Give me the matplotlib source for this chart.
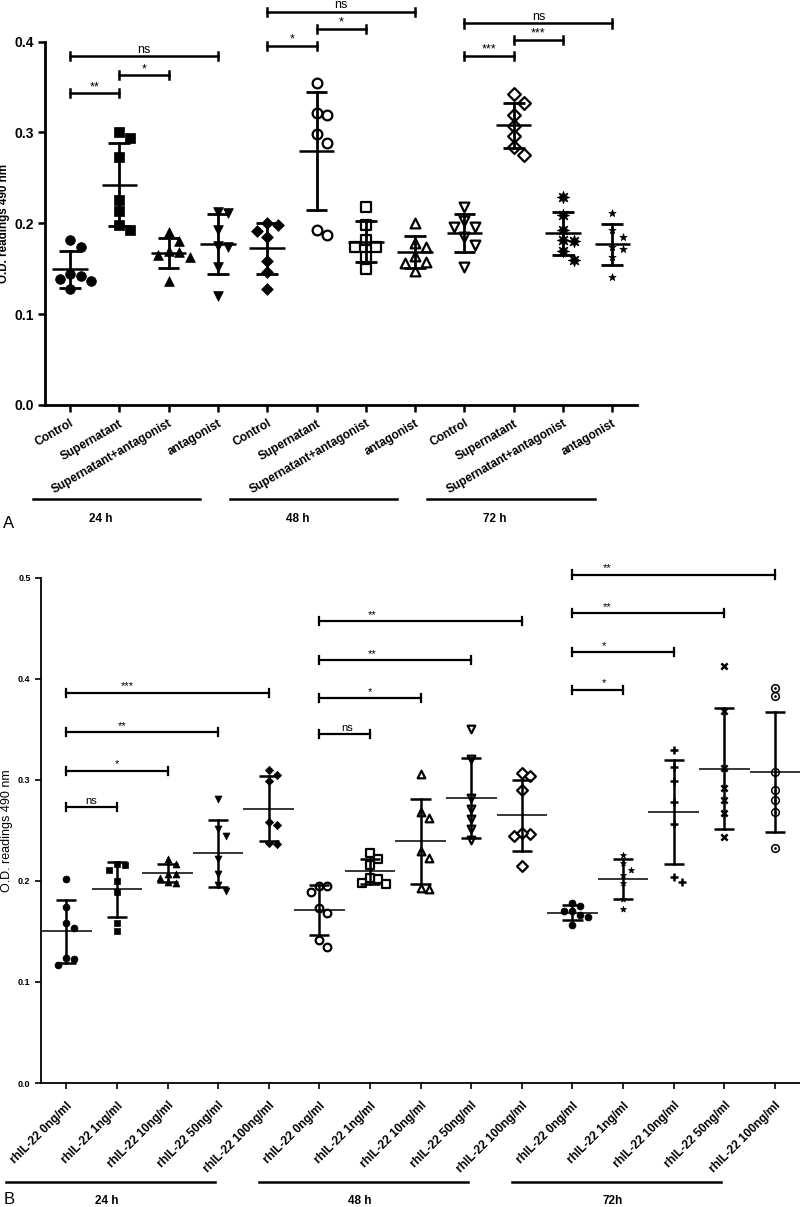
import numpy as np
import matplotlib
matplotlib.use("Agg")
import matplotlib.pyplot as plt
import matplotlib.transforms as mtransforms

plt.rcParams['font.family'] = ['Liberation Sans', 'DejaVu Sans']

# ---- panel A data (O.D. 490 nm) ----
a_labels = ["Control", "Supernatant", "Supernatant+antagonist", "antagonist"] * 3
a_24h = [
    [0.182, 0.174, 0.144, 0.139, 0.142, 0.136, 0.128],
    [0.300, 0.294, 0.273, 0.226, 0.214, 0.193, 0.198],
    [0.190, 0.181, 0.170, 0.168, 0.165, 0.163, 0.137],
    [0.212, 0.211, 0.193, 0.175, 0.174, 0.152, 0.120],
]
a_48h = [
    [0.200, 0.198, 0.192, 0.185, 0.158, 0.146, 0.128],
    [0.354, 0.321, 0.319, 0.298, 0.288, 0.193, 0.187],
    [0.218, 0.198, 0.182, 0.174, 0.174, 0.163, 0.150],
    [0.200, 0.178, 0.174, 0.164, 0.157, 0.156, 0.147],
]
a_72h = [
    [0.218, 0.202, 0.196, 0.196, 0.185, 0.176, 0.152],
    [0.342, 0.332, 0.319, 0.307, 0.296, 0.284, 0.275],
    [0.229, 0.209, 0.193, 0.182, 0.181, 0.170, 0.160],
    [0.211, 0.193, 0.185, 0.174, 0.172, 0.163, 0.141],
]
a_times = ["24 h", "48 h", "72 h"]
# (left group, right group, height, label)
a_brackets = [
    (0, 1, 0.343, "**"), (1, 2, 0.363, "*"), (0, 3, 0.384, "ns"),
    (4, 5, 0.395, "*"), (5, 6, 0.414, "*"), (4, 7, 0.433, "ns"),
    (8, 9, 0.384, "***"), (9, 10, 0.402, "***"), (8, 11, 0.420, "ns"),
]

# ---- panel B data ----
b_doses = ["0ng/ml", "1ng/ml", "10ng/ml", "50ng/ml", "100ng/ml"]
b_labels = ["rhIL-22 " + d for d in b_doses] * 3
b_24h = [
    [0.202, 0.174, 0.158, 0.153, 0.124, 0.123, 0.117],
    [0.216, 0.217, 0.211, 0.200, 0.189, 0.158, 0.150],
    [0.222, 0.217, 0.207, 0.207, 0.203, 0.199, 0.198],
    [0.281, 0.251, 0.244, 0.222, 0.207, 0.196, 0.190],
    [0.310, 0.305, 0.299, 0.258, 0.255, 0.237, 0.236],
]
b_48h = [
    [0.195, 0.195, 0.189, 0.173, 0.168, 0.141, 0.135],
    [0.228, 0.222, 0.216, 0.202, 0.197, 0.198, 0.203],
    [0.306, 0.268, 0.262, 0.230, 0.223, 0.192, 0.193],
    [0.350, 0.321, 0.282, 0.271, 0.261, 0.251, 0.240],
    [0.307, 0.304, 0.290, 0.246, 0.244, 0.247, 0.215],
]
b_72h = [
    [0.175, 0.178, 0.170, 0.166, 0.170, 0.164, 0.156],
    [0.226, 0.218, 0.211, 0.206, 0.198, 0.182, 0.172],
    [0.329, 0.313, 0.299, 0.278, 0.256, 0.199, 0.204],
    [0.413, 0.368, 0.312, 0.292, 0.280, 0.267, 0.243],
    [0.391, 0.383, 0.308, 0.290, 0.280, 0.268, 0.232],
]
b_times = ["24 h", "48 h", "72h"]
# (left group, right group, height, label, label offset from left end)
b_brackets = [
    (0, 1, 0.273, "ns", 0.5), (0, 2, 0.309, "*", 1.0), (0, 3, 0.347, "**", 1.1), (0, 4, 0.386, "***", 1.2),
    (5, 6, 0.345, "ns", 0.55), (5, 7, 0.381, "*", 1.0), (5, 8, 0.418, "**", 1.05), (5, 9, 0.457, "**", 1.05),
    (10, 11, 0.389, "*", 0.62), (10, 12, 0.426, "*", 0.62), (10, 13, 0.465, "**", 0.68), (10, 14, 0.503, "**", 0.68),
]

# marker styles: (marker, filled, size in pt)
a_markers = [("o", True, 7), ("s", True, 6.5), ("^", True, 7), ("v", True, 7),
             ("D", True, 6), ("o", False, 7), ("s", False, 7), ("^", False, 7),
             ("v", False, 7), ("D", False, 6.5), ((8, 1, 0), True, 9), ("*", True, 5.5)]
b_markers = [("o", True, 5), ("s", True, 5), ("^", True, 5), ("v", True, 5),
             ("D", True, 4.2), ("o", False, 5.5), ("s", False, 5.5), ("^", False, 5.5),
             ("v", False, 5.5), ("D", False, 5.5), ("o", True, 5), ("*", True, 4.5),
             ("+", True, 6), ("x", True, 4.5), ("odot", False, 5.5)]


def swarm_offsets(vals, px_per_val, px_per_unit, diam):
    vals = np.asarray(vals)
    offs = np.zeros(len(vals))
    placed = []
    for i in np.argsort(-vals, kind="stable"):
        y = vals[i] * px_per_val
        for k in [0, 1, -1, 2, -2, 3, -3]:
            x = k * diam
            if all((x - px) ** 2 + (y - py) ** 2 >= diam ** 2 * 0.8 for px, py in placed):
                break
        placed.append((x, y))
        offs[i] = x / px_per_unit
    return offs


def draw_groups(ax, groups, markers, px_val, px_unit, diam, lw_bar, lw_mean, cap_w, mean_w):
    for i, vals in enumerate(groups):
        vals = np.asarray(vals)
        xs = i + swarm_offsets(vals, px_val, px_unit, diam)
        m, filled, ms = markers[i]
        if m == "odot":
            ax.scatter(xs, vals, marker="o", s=ms ** 2, facecolors="white", edgecolors="black",
                       linewidths=1.1, zorder=2)
            ax.scatter(xs, vals, marker="o", s=(ms * 0.35) ** 2, c="black", linewidths=0, zorder=2)
        elif m in ("+", "x"):
            ax.scatter(xs, vals, marker=m, s=ms ** 2, c="black", linewidths=1.8, zorder=2)
        elif filled:
            ax.scatter(xs, vals, marker=m, s=ms ** 2, c="black", linewidths=0.5, zorder=2)
        else:
            ax.scatter(xs, vals, marker=m, s=ms ** 2, facecolors="white", edgecolors="black",
                       linewidths=1.6, zorder=2)
        mean = vals.mean()
        sd = vals.std(ddof=1)
        ax.plot([i, i], [mean - sd, mean + sd], color="black", lw=lw_bar, zorder=3)
        ax.hlines([mean - sd, mean + sd], i - cap_w, i + cap_w, color="black", lw=lw_bar, zorder=3)
        ax.hlines(mean, i - mean_w, i + mean_w, color="black", lw=lw_mean, zorder=3)


def draw_bracket(ax, x1, x2, y, label, tx, cap, lw, fs):
    ax.plot([x1, x2], [y, y], color="black", lw=lw, clip_on=False)
    ax.plot([x1, x1], [y - cap, y + cap], color="black", lw=lw, clip_on=False)
    ax.plot([x2, x2], [y - cap, y + cap], color="black", lw=lw, clip_on=False)
    ax.text(tx, y + cap * 0.8, label, ha="center", va="baseline", fontsize=fs, clip_on=False)


fig = plt.figure(figsize=(8, 12.07), dpi=100)

# ---------------- panel A ----------------
axA = fig.add_axes([0.0567, 0.6645, 0.7395, 0.3010])
groupsA = a_24h + a_48h + a_72h
draw_groups(axA, groupsA, a_markers, 908, 49.3, 10.5, 2.0, 1.8, 0.22, 0.36)
axA.set_xlim(-0.5, 11.5)
axA.set_ylim(0, 0.4)
axA.set_yticks([0, 0.1, 0.2, 0.3, 0.4])
axA.set_yticklabels(["0.0", "0.1", "0.2", "0.3", "0.4"], fontsize=10, fontweight="bold")
axA.set_xticks(range(len(a_labels)))
axA.set_xticklabels(a_labels, rotation=30, ha="right", rotation_mode="anchor",
                    fontsize=8.6, fontweight="bold")
for s in ["top", "right"]:
    axA.spines[s].set_visible(False)
for s in ["left", "bottom"]:
    axA.spines[s].set_linewidth(2.0)
axA.tick_params(axis="both", length=5, width=1.8)
axA.tick_params(axis="x", pad=4)
axA.set_ylabel("O.D. readings 490 nm", fontsize=8.4, fontweight="bold")
axA.yaxis.set_label_coords(-0.06, 0.5)
for i, j, y, lab in a_brackets:
    draw_bracket(axA, i, j, y, lab, (i + j) / 2, 0.0045, 1.8, 9)

transA = mtransforms.blended_transform_factory(axA.transData, axA.transAxes)
for g, t in enumerate(a_times):
    s = g * 4
    axA.plot([s - 0.75, s + 3 - 0.36], [-0.259, -0.259], color="black", lw=1.8,
             transform=transA, clip_on=False)
    axA.text(s + 0.62, -0.314, t, transform=transA, ha="center", va="center",
             fontsize=8.5, fontweight="bold")
fig.text(0.004, 1 - 523 / 1207, "A", fontsize=12, va="center")

# ---------------- panel B ----------------
axB = fig.add_axes([0.05125, 0.1027, 0.949, 0.4188])
groupsB = b_24h + b_48h + b_72h
draw_groups(axB, groupsB, b_markers, 1011, 50.6, 8.0, 1.8, 1.1, 0.2, 0.5)
axB.set_xlim(-0.5, 14.5)
axB.set_ylim(0, 0.5)
axB.set_yticks([0, 0.1, 0.2, 0.3, 0.4, 0.5])
axB.set_yticklabels(["0.0", "0.1", "0.2", "0.3", "0.4", "0.5"], fontsize=6.5, fontweight="bold")
axB.set_xticks(range(len(b_labels)))
axB.set_xticklabels(b_labels, rotation=45, ha="right", rotation_mode="anchor",
                    fontsize=8.6, fontweight="bold")
for s in ["top", "right"]:
    axB.spines[s].set_visible(False)
for s in ["left", "bottom"]:
    axB.spines[s].set_linewidth(1.3)
axB.tick_params(axis="both", length=4, width=1.2)
axB.tick_params(axis="x", pad=8)
axB.set_ylabel("O.D. readings 490 nm", fontsize=9)
axB.yaxis.set_label_coords(-0.037, 0.5)
for i, j, y, lab, tx in b_brackets:
    draw_bracket(axB, i, j, y, lab, i + tx, 0.004, 1.6, 8)

transB = mtransforms.blended_transform_factory(axB.transData, axB.transAxes)
for g, t in enumerate(b_times):
    s = g * 5
    axB.plot([s - 1.2, s + 4 - 1.06], [-0.195, -0.195], color="black", lw=1.8,
             transform=transB, clip_on=False)
    axB.text(s + 0.8, -0.2335, t, transform=transB, ha="center", va="center",
             fontsize=8.5, fontweight="bold")
fig.text(0.004, 1 - 1200 / 1207, "B", fontsize=12, va="center")

fig.savefig("out.png", dpi=100)
plt.close(fig)
